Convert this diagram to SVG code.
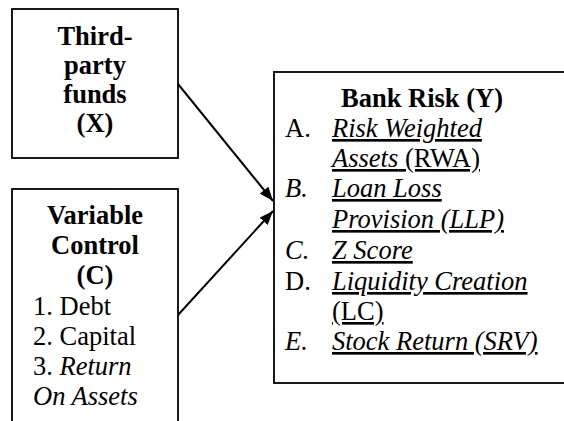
<svg xmlns="http://www.w3.org/2000/svg" width="564" height="421" viewBox="0 0 564 421">
  <defs>
    <marker id="arrow" viewBox="0 0 14 11" refX="14" refY="5.5" markerWidth="14" markerHeight="11" markerUnits="userSpaceOnUse" orient="auto">
      <path d="M0,0 L14,5.5 L0,11 Z" fill="#000"/>
    </marker>
    <style>
      .box { fill: #fff; stroke: #000; stroke-width: 1.8; }
      text { font-family: 'Liberation Serif', 'Times New Roman', serif; font-size: 26.5px; fill: #000; }
      .b { font-weight: bold; }
      .i { font-style: italic; }
      .u { text-decoration: underline; }
      .edge { stroke: #000; stroke-width: 2; fill: none; marker-end: url(#arrow); }
    </style>
  </defs>
  <rect width="564" height="421" fill="#fff"/>

  <g id="connectors">
    <line class="edge" x1="178" y1="84" x2="273" y2="201"/>
    <line class="edge" x1="178" y1="315" x2="273" y2="211"/>
  </g>

  <g id="third-party-funds">
    <rect class="box" x="12" y="9" width="166" height="149"/>
    <text class="b" x="95" y="45" text-anchor="middle">Third-</text>
    <text class="b" x="95" y="74" text-anchor="middle">party</text>
    <text class="b" x="95" y="103" text-anchor="middle">funds</text>
    <text class="b" x="95" y="132" text-anchor="middle">(X)</text>
  </g>

  <g id="variable-control">
    <rect class="box" x="12" y="189" width="166" height="250"/>
    <text class="b" x="95" y="224" text-anchor="middle">Variable</text>
    <text class="b" x="95" y="254" text-anchor="middle">Control</text>
    <text class="b" x="95" y="284" text-anchor="middle">(C)</text>
    <text x="33" y="315">1. Debt</text>
    <text x="33" y="345">2. Capital</text>
    <text x="33" y="375">3. <tspan class="i">Return</tspan></text>
    <text x="33" y="405" class="i">On Assets</text>
  </g>

  <g id="bank-risk">
    <rect class="box" x="274" y="72" width="310" height="311"/>
    <text class="b" x="422" y="107" text-anchor="middle">Bank Risk (Y)</text>
    <text x="285" y="137">A.</text>
    <text x="285" y="197" class="i">B.</text>
    <text x="285" y="259" class="i">C.</text>
    <text x="285" y="290">D.</text>
    <text x="285" y="350" class="i">E.</text>
    <text x="332" y="137" class="i u">Risk Weighted</text>
    <text x="332" y="167" class="u"><tspan class="i">Assets</tspan> (RWA)</text>
    <text x="332" y="197" class="i u">Loan Loss</text>
    <text x="332" y="228" class="i u">Provision (LLP)</text>
    <text x="332" y="259" class="i u">Z Score</text>
    <text x="332" y="290" class="i u">Liquidity Creation</text>
    <text x="332" y="320" class="u">(LC)</text>
    <text x="332" y="350" class="i u">Stock Return (SRV)</text>
  </g>
</svg>
